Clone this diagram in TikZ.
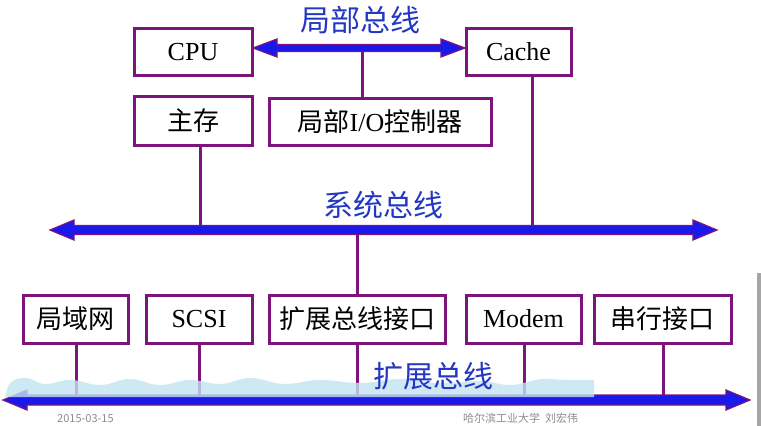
\documentclass[tikz,border=0pt]{standalone}
\usepackage{fontspec}
\setmainfont{Liberation Serif}
\newfontfamily\cjk{Noto Sans CJK SC}
\definecolor{boxpurple}{RGB}{125,20,125}
\definecolor{busblue}{RGB}{25,25,235}
\definecolor{labelblue}{RGB}{35,55,195}
\definecolor{bandblue}{RGB}{195,228,242}
\newcommand\drawbus[5]{%
  \filldraw[fill=busblue, draw=boxpurple, line width=1.2pt, line join=miter]
    (#1,#3) -- ({#1+24},{#3-#5}) -- ({#1+24},{#3-#4}) -- ({#2-24},{#3-#4})
    -- ({#2-24},{#3-#5}) -- (#2,#3) -- ({#2-24},{#3+#5}) -- ({#2-24},{#3+#4})
    -- ({#1+24},{#3+#4}) -- ({#1+24},{#3+#5}) -- cycle;}
\tikzset{
  unit/.style={draw=boxpurple, line width=3pt, fill=white, inner sep=0pt,
    font=\fontsize{26}{30}\selectfont, text=black, minimum height=47pt},
  wire/.style={draw=boxpurple, line width=3pt},
  buslabel/.style={font=\cjk\fontsize{30}{34}\selectfont, text=labelblue, inner sep=0pt},
  footer/.style={font=\cjk\fontsize{11}{13}\selectfont, text=black!45, inner sep=0pt}
}
\begin{document}
\begin{tikzpicture}[x=1pt,y=-1pt]
\useasboundingbox (0,0) rectangle (761,426);
\fill[white] (0,0) rectangle (761,426);
\fill[black!35] (757,273) rectangle (761,426);

% bus anchor points
\coordinate (lb1) at (362,48);
\coordinate (sb1) at (200,230);
\coordinate (sb2) at (532,230);
\coordinate (sb3) at (357,230);
\coordinate (eb1) at (76,400);
\coordinate (eb2) at (199,400);
\coordinate (eb3) at (357,400);
\coordinate (eb4) at (524,400);
\coordinate (eb5) at (663,400);

% top units
\node[unit, minimum width=118pt] (cpu) at (193,52) {CPU};
\node[unit, minimum width=105pt] (cache) at (518.5,52) {Cache};
\node[unit, minimum width=118pt, minimum height=49pt] (mem) at (193,120.5) {\cjk 主存};
\node[unit, minimum width=222pt] (lio) at (380,121.5) {{\cjk 局部}I/O{\cjk 控制器}};

% bottom units
\node[unit, minimum width=105pt, minimum height=48pt] (lan) at (75.5,319) {\cjk 局域网};
\node[unit, minimum width=106pt, minimum height=48pt] (scsi) at (199,319) {SCSI};
\node[unit, minimum width=176pt, minimum height=48pt] (ext) at (357,319) {\cjk 扩展总线接口};
\node[unit, minimum width=115pt, minimum height=48pt] (modem) at (523.5,319) {Modem};
\node[unit, minimum width=137pt, minimum height=48pt] (serial) at (662.5,319) {\cjk 串行接口};

% wires
\draw[wire] (lb1) -- (lb1 |- lio.north);
\draw[wire] (sb1 |- mem.south) -- (sb1);
\draw[wire] (sb2 |- cache.south) -- (sb2);
\draw[wire] (sb3) -- (sb3 |- ext.north);
\draw[wire] (eb1 |- lan.south) -- (eb1);
\draw[wire] (eb2 |- scsi.south) -- (eb2);
\draw[wire] (eb3 |- ext.south) -- (eb3);
\draw[wire] (eb4 |- modem.south) -- (eb4);
\draw[wire] (eb5 |- serial.south) -- (eb5);

% buses
\drawbus{253}{465}{48}{3.5}{9}
\drawbus{50}{717}{230}{4.5}{10}
\drawbus{3}{750}{400}{5}{10}

% translucent band over the expansion bus
\fill[bandblue, opacity=0.8]
  (5,397) -- (8,386) to[out=60,in=180] (25,378) to[out=0,in=180] (45,384)
  to[out=0,in=180] (70,380) to[out=0,in=180] (100,385) to[out=0,in=180] (130,379)
  to[out=0,in=180] (160,385) to[out=0,in=180] (190,380) to[out=0,in=180] (220,384)
  to[out=0,in=180] (250,378) to[out=0,in=180] (285,384) to[out=0,in=180] (320,380)
  to[out=0,in=180] (360,383) to[out=0,in=180] (400,379) to[out=0,in=180] (440,383)
  to[out=0,in=180] (480,381) to[out=0,in=180] (510,385) to[out=0,in=180] (545,379)
  to[out=0,in=180] (570,380) -- (594,380) -- (594,397) -- cycle;

% bus labels
\node[buslabel] (lbl) at (360,20) {局部总线};
\node[buslabel] (sbl) at (383,205) {系统总线};
\node[buslabel] (ebl) at (433,376) {扩展总线};

% footer
\node[footer, anchor=base west] (date) at (57,422) {2015-03-15};
\node[footer, anchor=base west] (author) at (463,422) {哈尔滨工业大学\ \ 刘宏伟};
\end{tikzpicture}
\end{document}
